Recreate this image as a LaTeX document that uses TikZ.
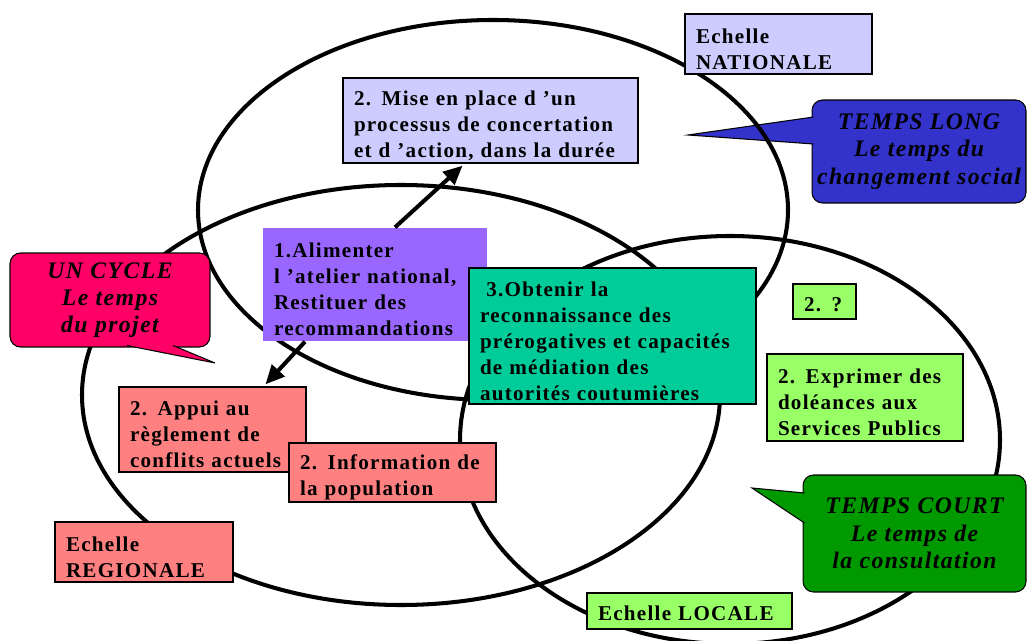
\documentclass[tikz,border=0pt]{standalone}
\usepackage{fontspec}
\setmainfont{Liberation Serif}
\newfontfamily\cardface[LetterSpace=6]{Liberation Serif}
\usepackage{tikz}
\usetikzlibrary{arrows.meta, positioning, calc}
\definecolor{natlilac}{RGB}{204,204,255}
\definecolor{alimviolet}{RGB}{153,102,255}
\definecolor{obtgreen}{RGB}{0,204,153}
\definecolor{regsalmon}{RGB}{255,128,128}
\definecolor{locgreen}{RGB}{153,255,102}
\definecolor{longblue}{RGB}{51,51,204}
\definecolor{cyclepink}{RGB}{255,0,102}
\definecolor{courtgreen}{RGB}{0,153,0}

\begin{document}
\begin{tikzpicture}[x=0.02cm, y=-0.02cm,
    ring/.style={draw, line width=2.3pt},
    card/.style={draw, line width=0.8pt, align=left, inner xsep=0.22cm, inner ysep=0pt,
                 text height=14pt, font={\cardface\bfseries\fontsize{12}{14.8}\selectfont}},
    bubble/.style={draw, line width=0.6pt, rounded corners=6pt, align=center, inner sep=0pt,
                 font={\cardface\bfseries\itshape\fontsize{13.5}{15.5}\selectfont}},
    tail/.style={line width=0.6pt, line join=miter},
    arrow/.style={-{Triangle[length=0.38cm, width=0.34cm]}, line width=2.3pt}
  ]
    \useasboundingbox (0,0) rectangle (1027,641);

    % long-term bubble sits under the national ring
    \node[bubble, fill=longblue, minimum width=4.28cm, minimum height=2.06cm] (long) at (919,151.5)
          {TEMPS LONG\\Le temps du\\changement social};
    \coordinate (longtip) at (688,135);
    \filldraw[tail, fill=longblue] ($(long.west)+(2,-34.5)$) -- (longtip) -- ($(long.west)+(2,-7.5)$);

    % the three scales
    \draw[ring] (493,210) ellipse [x radius=295, y radius=190];
    \draw[ring] (401,395) ellipse [x radius=319, y radius=210];
    \draw[ring] (730,440) ellipse [x radius=270, y radius=204];

    % national
    \node[card, fill=natlilac, text width=3.30cm, minimum height=1.20cm] (natl) at (778.5,44)
          {Echelle\\NATIONALE};
    \node[card, fill=natlilac, text width=5.46cm, minimum height=1.70cm] (mise) at (490.5,120.5)
          {2. Mise en place d ’un\\processus de concertation\\et d ’action, dans la durée};

    % centre
    \node[card, draw=none, fill=alimviolet, text width=4.04cm, minimum height=2.26cm] (alim) at (375,284.5)
          {1.Alimenter\\l ’atelier national,\\Restituer des\\recommandations};
    \node[card, fill=obtgreen, text width=5.30cm, minimum height=2.72cm] (obt) at (612.5,336)
          {\hspace{0.3em}3.Obtenir la\\reconnaissance des\\prérogatives et capacités\\de médiation des\\autorités coutumières};

    % regional
    \node[card, fill=regsalmon, text width=3.30cm, minimum height=1.70cm] (appui) at (212.5,429.5)
          {2. Appui au\\règlement de\\conflits actuels};
    \node[card, fill=regsalmon, text width=3.70cm, minimum height=1.18cm] (info) at (392.5,472.5)
          {2. Information de\\la population};
    \node[card, fill=regsalmon, text width=3.12cm, minimum height=1.20cm] (regl) at (144,552)
          {Echelle\\REGIONALE};

    % local
    \node[card, text height=11pt, fill=locgreen, text width=0.82cm, minimum height=0.70cm] (quest) at (824.5,301.5)
          {2. ?};
    \node[card, fill=locgreen, text width=3.48cm, minimum height=1.74cm] (expr) at (865,397.5)
          {2. Exprimer des\\doléances aux\\Services Publics};
    \node[card, text height=11pt, fill=locgreen, text width=3.66cm, minimum height=0.72cm] (locl) at (689.5,611)
          {Echelle LOCALE};

    % time bubbles
    \node[bubble, fill=cyclepink, minimum width=4.00cm, minimum height=1.88cm] (cycle) at (110,300)
          {UN CYCLE\\Le temps\\du projet};
    \coordinate (cycletip) at (215,363);
    \filldraw[tail, fill=cyclepink] ($(cycle.south)+(17,-2)$) -- (cycletip) -- ($(cycle.south)+(63,-2)$);

    \node[bubble, fill=courtgreen, minimum width=4.46cm, minimum height=2.34cm] (court) at (914.5,533.5)
          {TEMPS COURT\\Le temps de\\la consultation};
    \coordinate (courttip) at (752,488);
    \filldraw[tail, fill=courtgreen] ($(court.west)+(2,-40.5)$) -- (courttip) -- ($(court.west)+(2,-10.5)$);

    \draw[arrow] ($(alim.north)+(20,0)$) -- ($(mise.south)+(-28,2)$);
    \draw[arrow] ($(alim.south)+(-70,0)$) -- ($(appui.north)+(53,-2)$);

  \end{tikzpicture}
\end{document}
